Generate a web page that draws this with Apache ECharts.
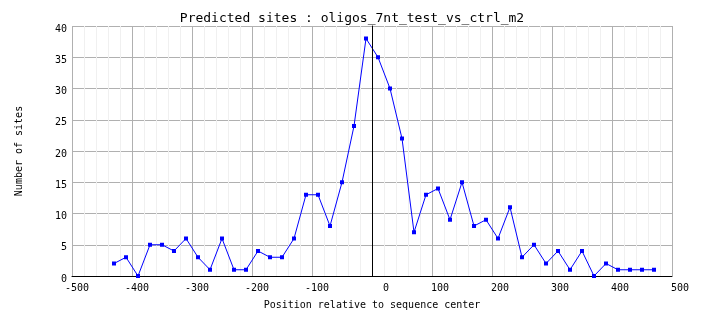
<!DOCTYPE html>
<html>
<head>
<meta charset="utf-8">
<script src="https://cdn.jsdelivr.net/npm/echarts@6/dist/echarts.min.js"></script>
<style>
  html, body { margin: 0; padding: 0; background: #ffffff; }
  #chart { width: 704px; height: 328px; }
</style>
</head>
<body>
<div id="chart"></div>
<script>
// Bin positions (relative to sequence center) and site counts per bin
const positions = [
  -430, -410, -390, -370, -350, -330, -310, -290, -270, -250,
  -230, -210, -190, -170, -150, -130, -110, -90, -70, -50,
  -30, -10, 10, 30, 50, 70, 90, 110, 130, 150,
  170, 190, 210, 230, 250, 270, 290, 310, 330, 350,
  370, 390, 410, 430, 450, 470
];
const siteCounts = [
  2, 3, 0, 5, 5, 4, 6, 3, 1, 6,
  1, 1, 4, 3, 3, 6, 13, 13, 8, 15,
  24, 38, 35, 30, 22, 7, 13, 14, 9, 15,
  8, 9, 6, 11, 3, 5, 2, 4, 1, 4,
  0, 2, 1, 1, 1, 1
];
const chartTitle = 'Predicted sites : oligos_7nt_test_vs_ctrl_m2';
const xAxisTitle = 'Position relative to sequence center';
const yAxisTitle = 'Number of sites';

const mono = '"DejaVu Sans Mono", monospace';
const points = positions.map((p, i) => [p, siteCounts[i]]);

const chart = echarts.init(document.getElementById('chart'), null, { renderer: 'canvas' });
chart.setOption({
  backgroundColor: '#ffffff',
  animation: false,
  title: {
    text: chartTitle,
    left: 'center',
    top: 12,
    padding: 0,
    textStyle: { fontFamily: mono, fontSize: 13, fontWeight: 'normal', color: '#000000' }
  },
  grid: { left: 72, right: 32, top: 26, bottom: 52, containLabel: false },
  xAxis: {
    type: 'value',
    min: -500,
    max: 500,
    interval: 100,
    name: xAxisTitle,
    nameLocation: 'middle',
    nameGap: 24,
    nameTextStyle: { fontFamily: mono, fontSize: 10, color: '#000000' },
    axisLine: { show: true, onZero: false, lineStyle: { color: '#000000', width: 1 } },
    axisTick: { show: false },
    axisLabel: {
      fontFamily: mono, fontSize: 10, color: '#000000',
      align: 'right', padding: [0, -17, 0, 0], margin: 7,
      showMinLabel: true, showMaxLabel: true
    },
    splitLine: { show: true, lineStyle: { color: '#b0b0b0', width: 1 } },
    minorTick: { show: false, splitNumber: 5 },
    minorSplitLine: { show: true, lineStyle: { color: '#f0f0f0', width: 1 } }
  },
  yAxis: {
    type: 'value',
    min: 0,
    max: 40,
    interval: 5,
    name: yAxisTitle,
    nameLocation: 'middle',
    nameGap: 48,
    nameRotate: 90,
    nameTextStyle: { fontFamily: mono, fontSize: 10, color: '#000000' },
    axisLine: { show: true, lineStyle: { color: '#000000', width: 1 } },
    axisTick: { show: false },
    axisLabel: {
      fontFamily: mono, fontSize: 10, color: '#000000',
      margin: 5, verticalAlign: 'top', lineHeight: 6
    },
    splitLine: { show: true, lineStyle: { color: '#b0b0b0', width: 1 } },
    minorSplitLine: { show: false }
  },
  series: [{
    type: 'line',
    data: points,
    symbol: 'rect',
    symbolSize: 4,
    showSymbol: true,
    itemStyle: { color: '#0000ff' },
    lineStyle: { color: '#0000ff', width: 1 },
    markLine: {
      silent: true,
      symbol: ['none', 'none'],
      label: { show: false },
      lineStyle: { color: '#000000', width: 1, type: 'solid' },
      data: [{ xAxis: 0 }]
    }
  }]
});
</script>
</body>
</html>
